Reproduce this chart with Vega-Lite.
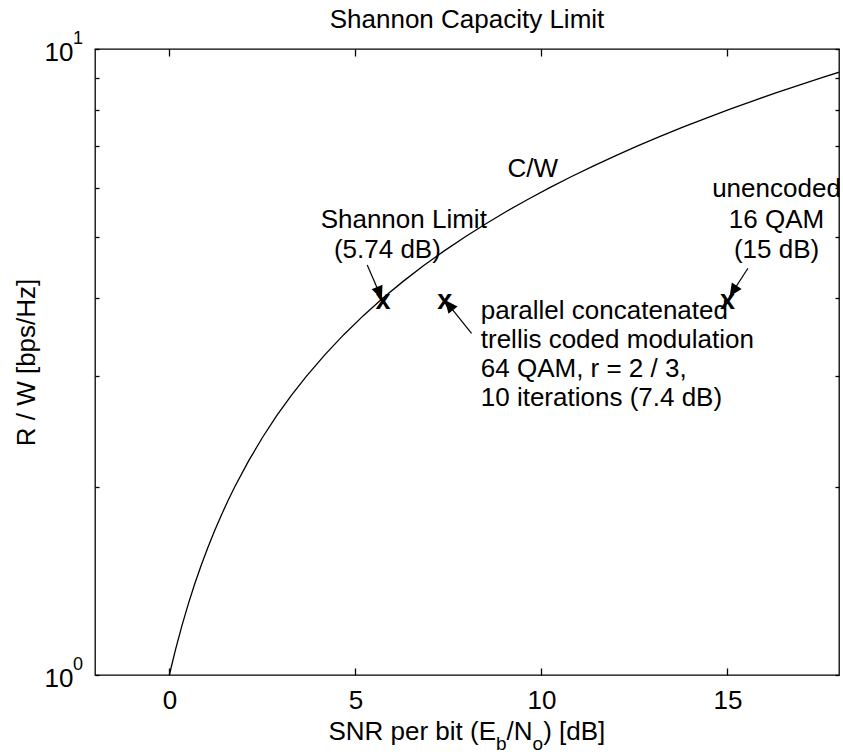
{
  "$schema": "https://vega.github.io/schema/vega-lite/v6.json",
  "width": 744,
  "height": 626,
  "autosize": {"type": "none"},
  "padding": {"left": 95, "top": 49, "right": 4, "bottom": 80},
  "background": "white",
  "config": {
    "font": "Liberation Sans",
    "view": {"stroke": "black", "strokeWidth": 1.3},
    "axis": {"grid": false, "domain": false, "tickColor": "black", "tickWidth": 1.3, "labelColor": "black", "labelFont": "Liberation Sans", "labelFontSize": 26, "titleColor": "black", "titleFont": "Liberation Sans", "titleFontSize": 26, "titleFontWeight": "normal"},
    "text": {"font": "Liberation Sans", "fontSize": 26, "color": "black"}
  },
  "datasets": {
    "curve": [
      {"snr_db": 0.0, "rate": 1.0},
      {"snr_db": 0.084, "rate": 1.05},
      {"snr_db": 0.168, "rate": 1.1},
      {"snr_db": 0.339, "rate": 1.2},
      {"snr_db": 0.511, "rate": 1.3},
      {"snr_db": 0.684, "rate": 1.4},
      {"snr_db": 0.860, "rate": 1.5},
      {"snr_db": 1.037, "rate": 1.6},
      {"snr_db": 1.215, "rate": 1.7},
      {"snr_db": 1.396, "rate": 1.8},
      {"snr_db": 1.577, "rate": 1.9},
      {"snr_db": 1.761, "rate": 2.0},
      {"snr_db": 2.133, "rate": 2.2},
      {"snr_db": 2.510, "rate": 2.4},
      {"snr_db": 2.894, "rate": 2.6},
      {"snr_db": 3.284, "rate": 2.8},
      {"snr_db": 3.680, "rate": 3.0},
      {"snr_db": 4.183, "rate": 3.25},
      {"snr_db": 4.694, "rate": 3.5},
      {"snr_db": 5.213, "rate": 3.75},
      {"snr_db": 5.740, "rate": 4.0},
      {"snr_db": 6.275, "rate": 4.25},
      {"snr_db": 6.818, "rate": 4.5},
      {"snr_db": 7.368, "rate": 4.75},
      {"snr_db": 7.924, "rate": 5.0},
      {"snr_db": 8.487, "rate": 5.25},
      {"snr_db": 9.056, "rate": 5.5},
      {"snr_db": 9.631, "rate": 5.75},
      {"snr_db": 10.212, "rate": 6.0},
      {"snr_db": 10.798, "rate": 6.25},
      {"snr_db": 11.390, "rate": 6.5},
      {"snr_db": 11.986, "rate": 6.75},
      {"snr_db": 12.587, "rate": 7.0},
      {"snr_db": 13.193, "rate": 7.25},
      {"snr_db": 13.802, "rate": 7.5},
      {"snr_db": 14.417, "rate": 7.75},
      {"snr_db": 15.034, "rate": 8.0},
      {"snr_db": 15.656, "rate": 8.25},
      {"snr_db": 16.281, "rate": 8.5},
      {"snr_db": 16.910, "rate": 8.75},
      {"snr_db": 17.542, "rate": 9.0},
      {"snr_db": 18.050, "rate": 9.2}
    ],
    "arrows": [
      {"id": "shannon", "x": 5.318, "y": 4.519, "x2": 5.713, "y2": 3.987},
      {"id": "pctcm", "x": 8.122, "y": 3.515, "x2": 7.405, "y2": 3.972},
      {"id": "qam", "x": 15.552, "y": 4.464, "x2": 15.06, "y2": 4.022}
    ],
    "markers": [
      {"snr_db": 5.74, "rate": 4, "m": "x"},
      {"snr_db": 7.4, "rate": 4, "m": "x"},
      {"snr_db": 15, "rate": 4, "m": "x"}
    ],
    "labels": [
      {"x": 9.77, "y": 6.25, "text": "C/W"},
      {"x": 6.30, "y": 5.18, "text": "Shannon Limit"},
      {"x": 5.86, "y": 4.64, "text": "(5.74 dB)"},
      {"x": 16.32, "y": 5.80, "text": "unencoded\n16 QAM\n(15 dB)"}
    ],
    "leftlabels": [
      {"x": 8.37, "y": 3.709, "text": "parallel concatenated\ntrellis coded modulation\n64 QAM, r = 2 / 3,\n10 iterations (7.4 dB)"}
    ],
    "sups": [
      {"v": 1, "s": "0"},
      {"v": 10, "s": "1"}
    ]
  },
  "resolve": {"axis": {"x": "independent", "y": "independent"}},
  "layer": [
    {
      "data": {"name": "curve"},
      "mark": {"type": "line", "color": "black", "strokeWidth": 1.3, "clip": true},
      "encoding": {
        "x": {"field": "snr_db", "type": "quantitative", "scale": {"domain": [-2, 18], "nice": false, "zero": false},
          "axis": {"orient": "bottom", "values": [0, 5, 10, 15], "tickSize": -7, "labelPadding": 40, "labelBaseline": "alphabetic", "labelAlign": "center", "labelOverlap": false, "labelFlush": false, "format": "d", "title": null}},
        "y": {"field": "rate", "type": "quantitative", "scale": {"type": "log", "domain": [1, 10], "nice": false},
          "axis": {"orient": "left", "values": [1, 2, 3, 4, 5, 6, 7, 8, 9, 10], "tickSize": -4, "labelPadding": 26, "labelAlign": "right", "labelBaseline": "alphabetic", "labelOffset": 11, "labelOverlap": false,
            "labelExpr": "datum.value == 1 || datum.value == 10 ? '10' : ''",
            "title": "R / W [bps/Hz]", "titleX": -60.5, "titleY": 313, "titleAngle": -90, "titleBaseline": "alphabetic", "titleAlign": "center"}}
      }
    },
    {
      "data": {"name": "markers"},
      "mark": {"type": "text", "align": "center", "baseline": "middle", "dy": 3, "fontSize": 27, "fontWeight": "bold"},
      "encoding": {
        "x": {"field": "snr_db", "type": "quantitative", "scale": {"domain": [-2, 18], "nice": false, "zero": false},
          "axis": {"orient": "top", "values": [0, 5, 10, 15], "tickSize": -7, "labels": false, "title": null}},
        "y": {"field": "rate", "type": "quantitative", "scale": {"type": "log", "domain": [1, 10], "nice": false},
          "axis": {"orient": "right", "values": [1, 2, 3, 4, 5, 6, 7, 8, 9, 10], "tickSize": -4, "labels": false, "title": null}},
        "text": {"field": "m"}
      }
    },
    {
      "data": {"name": "arrows"},
      "mark": {"type": "rule", "color": "black", "strokeWidth": 1.2},
      "encoding": {
        "x": {"field": "x", "type": "quantitative", "scale": {"domain": [-2, 18], "nice": false, "zero": false}, "axis": null},
        "y": {"field": "y", "type": "quantitative", "scale": {"type": "log", "domain": [1, 10], "nice": false}, "axis": null},
        "x2": {"field": "x2"},
        "y2": {"field": "y2"}
      }
    },
    {
      "data": {"name": "arrows"},
      "transform": [{"filter": "datum.id == 'shannon'"}],
      "mark": {"type": "point", "shape": "M0,0L-0.45,1L0.45,1Z", "size": 676, "filled": true, "color": "black", "opacity": 1, "strokeWidth": 0, "angle": 158},
      "encoding": {
        "x": {"field": "x2", "type": "quantitative", "scale": {"domain": [-2, 18], "nice": false, "zero": false}, "axis": null},
        "y": {"field": "y2", "type": "quantitative", "scale": {"type": "log", "domain": [1, 10], "nice": false}, "axis": null}
      }
    },
    {
      "data": {"name": "arrows"},
      "transform": [{"filter": "datum.id == 'pctcm'"}],
      "mark": {"type": "point", "shape": "M0,0L-0.45,1L0.45,1Z", "size": 676, "filled": true, "color": "black", "opacity": 1, "strokeWidth": 0, "angle": 321},
      "encoding": {
        "x": {"field": "x2", "type": "quantitative", "scale": {"domain": [-2, 18], "nice": false, "zero": false}, "axis": null},
        "y": {"field": "y2", "type": "quantitative", "scale": {"type": "log", "domain": [1, 10], "nice": false}, "axis": null}
      }
    },
    {
      "data": {"name": "arrows"},
      "transform": [{"filter": "datum.id == 'qam'"}],
      "mark": {"type": "point", "shape": "M0,0L-0.45,1L0.45,1Z", "size": 676, "filled": true, "color": "black", "opacity": 1, "strokeWidth": 0, "angle": 213},
      "encoding": {
        "x": {"field": "x2", "type": "quantitative", "scale": {"domain": [-2, 18], "nice": false, "zero": false}, "axis": null},
        "y": {"field": "y2", "type": "quantitative", "scale": {"type": "log", "domain": [1, 10], "nice": false}, "axis": null}
      }
    },
    {
      "data": {"name": "labels"},
      "mark": {"type": "text", "align": "center", "baseline": "alphabetic", "lineBreak": "\n", "lineHeight": 30.5, "fontSize": 26},
      "encoding": {
        "x": {"field": "x", "type": "quantitative", "scale": {"domain": [-2, 18], "nice": false, "zero": false}, "axis": null},
        "y": {"field": "y", "type": "quantitative", "scale": {"type": "log", "domain": [1, 10], "nice": false}, "axis": null},
        "text": {"field": "text"}
      }
    },
    {
      "data": {"name": "leftlabels"},
      "mark": {"type": "text", "align": "left", "baseline": "alphabetic", "lineBreak": "\n", "lineHeight": 29, "fontSize": 26},
      "encoding": {
        "x": {"field": "x", "type": "quantitative", "scale": {"domain": [-2, 18], "nice": false, "zero": false}, "axis": null},
        "y": {"field": "y", "type": "quantitative", "scale": {"type": "log", "domain": [1, 10], "nice": false}, "axis": null},
        "text": {"field": "text"}
      }
    },
    {
      "data": {"name": "sups"},
      "mark": {"type": "text", "align": "left", "baseline": "alphabetic", "dx": -22, "dy": -5, "fontSize": 18},
      "encoding": {
        "x": {"datum": -2, "type": "quantitative", "scale": {"domain": [-2, 18], "nice": false, "zero": false}, "axis": null},
        "y": {"field": "v", "type": "quantitative", "scale": {"type": "log", "domain": [1, 10], "nice": false}, "axis": null},
        "text": {"field": "s"}
      }
    },
    {
      "data": {"values": [{"t": "Shannon Capacity Limit"}]},
      "mark": {"type": "text", "align": "center", "baseline": "alphabetic", "dy": -21, "fontSize": 26},
      "encoding": {
        "x": {"datum": 8, "type": "quantitative", "scale": {"domain": [-2, 18], "nice": false, "zero": false}, "axis": null},
        "y": {"datum": 10, "type": "quantitative", "scale": {"type": "log", "domain": [1, 10], "nice": false}, "axis": null},
        "text": {"field": "t"}
      }
    },
    {
      "data": {"values": [{"t": "SNR per bit (E"}]},
      "mark": {"type": "text", "align": "left", "baseline": "alphabetic", "dx": -138.6, "dy": 65, "fontSize": 26},
      "encoding": {
        "x": {"datum": 8, "type": "quantitative", "scale": {"domain": [-2, 18], "nice": false, "zero": false}, "axis": null},
        "y": {"datum": 1, "type": "quantitative", "scale": {"type": "log", "domain": [1, 10], "nice": false}, "axis": null},
        "text": {"field": "t"}
      }
    },
    {
      "data": {"values": [{"t": "b"}]},
      "mark": {"type": "text", "align": "left", "baseline": "alphabetic", "dx": 29, "dy": 75, "fontSize": 19},
      "encoding": {
        "x": {"datum": 8, "type": "quantitative", "scale": {"domain": [-2, 18], "nice": false, "zero": false}, "axis": null},
        "y": {"datum": 1, "type": "quantitative", "scale": {"type": "log", "domain": [1, 10], "nice": false}, "axis": null},
        "text": {"field": "t"}
      }
    },
    {
      "data": {"values": [{"t": "/N"}]},
      "mark": {"type": "text", "align": "left", "baseline": "alphabetic", "dx": 39.6, "dy": 65, "fontSize": 26},
      "encoding": {
        "x": {"datum": 8, "type": "quantitative", "scale": {"domain": [-2, 18], "nice": false, "zero": false}, "axis": null},
        "y": {"datum": 1, "type": "quantitative", "scale": {"type": "log", "domain": [1, 10], "nice": false}, "axis": null},
        "text": {"field": "t"}
      }
    },
    {
      "data": {"values": [{"t": "o"}]},
      "mark": {"type": "text", "align": "left", "baseline": "alphabetic", "dx": 65.6, "dy": 75, "fontSize": 19},
      "encoding": {
        "x": {"datum": 8, "type": "quantitative", "scale": {"domain": [-2, 18], "nice": false, "zero": false}, "axis": null},
        "y": {"datum": 1, "type": "quantitative", "scale": {"type": "log", "domain": [1, 10], "nice": false}, "axis": null},
        "text": {"field": "t"}
      }
    },
    {
      "data": {"values": [{"t": ") [dB]"}]},
      "mark": {"type": "text", "align": "left", "baseline": "alphabetic", "dx": 76.2, "dy": 65, "fontSize": 26},
      "encoding": {
        "x": {"datum": 8, "type": "quantitative", "scale": {"domain": [-2, 18], "nice": false, "zero": false}, "axis": null},
        "y": {"datum": 1, "type": "quantitative", "scale": {"type": "log", "domain": [1, 10], "nice": false}, "axis": null},
        "text": {"field": "t"}
      }
    }
  ]
}
